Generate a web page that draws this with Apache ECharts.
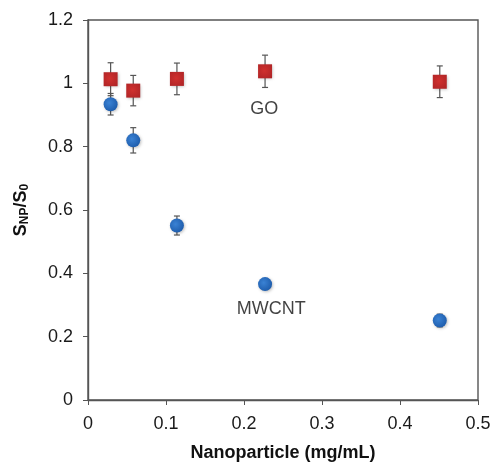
<!DOCTYPE html>
<html>
<head>
<meta charset="utf-8">
<script src="https://cdn.jsdelivr.net/npm/echarts@6/dist/echarts.min.js"></script>
<style>
html,body{margin:0;padding:0;background:#fff;}
#chart{width:492px;height:462px;}
</style>
</head>
<body>
<div id="chart"></div>
<script>
// Nanoparticle concentration (mg/mL)
var concentrations = [0.029, 0.058, 0.114, 0.227, 0.451];
// GO series: S_NP/S_0 and error
var goValues = [1.013, 0.977, 1.014, 1.038, 1.005];
var goErrors = [0.052, 0.048, 0.050, 0.051, 0.050];
// MWCNT series
var mwcntValues = [0.934, 0.820, 0.551, 0.366, 0.251];
var mwcntErrors = [0.034, 0.040, 0.030, 0.014, 0.020];
// Tick labels
var xTicks = [0, 0.1, 0.2, 0.3, 0.4, 0.5];
var yTicks = [0, 0.2, 0.4, 0.6, 0.8, 1, 1.2];
// Annotation labels
var labelNames = ['GO', 'MWCNT'];
var labelX = [0.226, 0.235];
var labelY = [0.918, 0.288];

var font = 'Liberation Sans, Arial, sans-serif';

function pairs(xs, ys) { return xs.map(function (x, i) { return [x, ys[i]]; }); }
function errData(xs, ys, es) { return xs.map(function (x, i) { return [x, ys[i] - es[i], ys[i] + es[i]]; }); }

function errRender(params, api) {
  var lo = api.coord([api.value(0), api.value(1)]);
  var hi = api.coord([api.value(0), api.value(2)]);
  var w = 3;
  var st = { stroke: '#555', lineWidth: 1.2 };
  return {
    type: 'group',
    children: [
      { type: 'line', shape: { x1: lo[0], y1: lo[1], x2: hi[0], y2: hi[1] }, style: st },
      { type: 'line', shape: { x1: lo[0] - w, y1: lo[1], x2: lo[0] + w, y2: lo[1] }, style: st },
      { type: 'line', shape: { x1: hi[0] - w, y1: hi[1], x2: hi[0] + w, y2: hi[1] }, style: st }
    ]
  };
}

var chart = echarts.init(document.getElementById('chart'), null, { renderer: 'canvas' });
chart.setOption({
  animation: false,
  backgroundColor: '#fff',
  grid: { left: 88, right: 14, top: 20, bottom: 62, containLabel: false, outerBoundsMode: 'none',
    show: true, borderColor: '#555', borderWidth: 1.4, backgroundColor: 'transparent' },
  xAxis: {
    type: 'value', min: 0, max: 0.5, interval: 0.1,
    name: 'Nanoparticle (mg/mL)', nameLocation: 'middle', nameGap: 44,
    nameTextStyle: { fontFamily: font, fontSize: 18, fontWeight: 'bold', color: '#111' },
    axisLine: { show: true, lineStyle: { color: '#555', width: 1.4 } },
    axisTick: { show: true, inside: false, length: 5, lineStyle: { color: '#555' } },
    axisLabel: { fontFamily: font, fontSize: 18, color: '#1a1a1a', margin: 15,
      formatter: function (v) { var i = xTicks.indexOf(Math.round(v * 10) / 10); return i >= 0 ? String(xTicks[i]) : ''; } },
    splitLine: { show: false }
  },
  yAxis: {
    type: 'value', min: 0, max: 1.2, interval: 0.2,
    name: '{s|S}{sub|NP}{s|/S}{sub|0}', nameLocation: 'middle', nameGap: 57, nameRotate: 90,
    nameTextStyle: { rich: {
      s: { fontFamily: font, fontSize: 18, fontWeight: 'bold', color: '#111' },
      sub: { fontFamily: font, fontSize: 12, fontWeight: 'bold', color: '#111', verticalAlign: 'bottom', padding: [7, 0, 0, 0] }
    } },
    axisLine: { show: true, lineStyle: { color: '#555', width: 1.4 } },
    axisTick: { show: true, inside: false, length: 5, lineStyle: { color: '#555' } },
    axisLabel: { fontFamily: font, fontSize: 18, color: '#1a1a1a', margin: 15,
      formatter: function (v) { var i = yTicks.indexOf(Math.round(v * 10) / 10); return i >= 0 ? String(yTicks[i]) : ''; } },
    splitLine: { show: false }
  },
  series: [
    { type: 'custom', name: 'GO err', renderItem: errRender, data: errData(concentrations, goValues, goErrors), z: 1, encode: { x: 0, y: [1, 2] } },
    { type: 'custom', name: 'MWCNT err', renderItem: errRender, data: errData(concentrations, mwcntValues, mwcntErrors), z: 1, encode: { x: 0, y: [1, 2] } },
    { type: 'scatter', name: 'MWCNT', data: pairs(concentrations, mwcntValues), symbol: 'circle', symbolSize: 14, z: 3,
      itemStyle: { opacity: 1, color: new echarts.graphic.RadialGradient(0.4, 0.4, 0.6, [{ offset: 0, color: '#3a82d4' }, { offset: 1, color: '#1f5eae' }]),
        shadowColor: 'rgba(0,0,0,0.25)', shadowBlur: 3, shadowOffsetX: 1, shadowOffsetY: 1 } },
    { type: 'scatter', name: 'GO', data: pairs(concentrations, goValues), symbol: 'rect', symbolSize: 14, z: 4,
      itemStyle: { opacity: 1, color: new echarts.graphic.RadialGradient(0.45, 0.45, 0.7, [{ offset: 0, color: '#d0302e' }, { offset: 1, color: '#ae2426' }]),
        shadowColor: 'rgba(0,0,0,0.25)', shadowBlur: 3, shadowOffsetX: 1, shadowOffsetY: 1 } },
    { type: 'scatter', name: 'labels', symbolSize: 0, z: 5, silent: true,
      data: labelNames.map(function (n, i) { return { name: n, value: [labelX[i], labelY[i]] }; }),
      label: { show: true, position: 'inside', formatter: '{b}', fontFamily: font, fontSize: 18, color: '#111' } }
  ]
});
</script>
</body>
</html>
